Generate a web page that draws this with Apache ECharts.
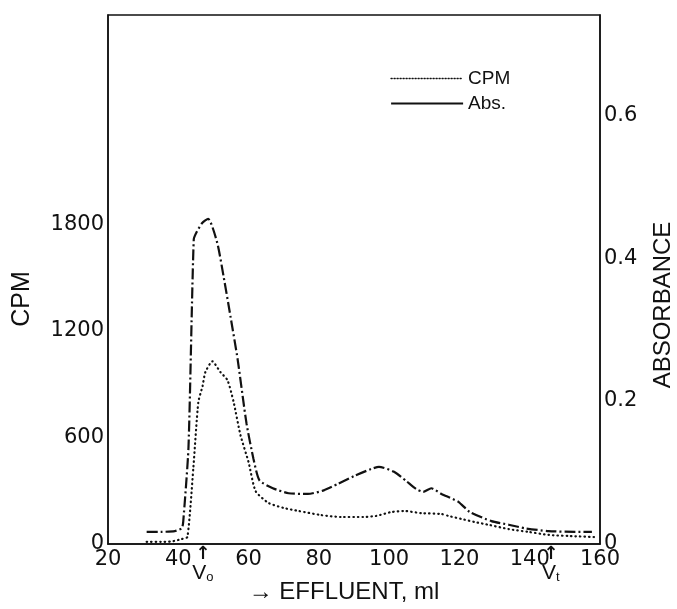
<!DOCTYPE html>
<html>
<head>
<meta charset="utf-8">
<script src="https://cdn.jsdelivr.net/npm/echarts@6/dist/echarts.min.js"></script>
<style>
  html, body { margin: 0; background: #fff; }
  #chart { width: 677px; height: 609px; }
</style>
</head>
<body>
<div id="chart"></div>
<script>
// effluent volume (ml) and counts for the CPM curve
const cpmEffluent = [31, 35, 38, 41, 42.6, 44.3, 45.7, 46.9, 47.7, 49.7, 52, 54, 55.7, 57.7, 60, 62, 65.7, 70, 74.3, 80.6, 86.3, 92.6, 96.3, 100.6, 104.3, 109.1, 114.9, 116.9, 120.6, 124.3, 128.6, 134, 139.7, 145.4, 151.1, 158.6];
const cpmValues = [12, 12, 14, 28, 40, 433, 799, 889, 968, 1029, 968, 923, 804, 613, 461, 298, 231, 203, 186, 163, 152, 152, 158, 180, 186, 174, 169, 158, 141, 124, 107, 84, 68, 51, 45, 39];

// effluent volume (ml) and absorbance
const absEffluent = [31, 35, 39, 41, 41.4, 42.9, 44.4, 45.3, 46.8, 48.5, 51.1, 52.9, 54.9, 56.9, 59.4, 61.4, 63.1, 66.9, 71.4, 76.9, 81.4, 85.4, 90, 94.9, 97.1, 101.4, 104.9, 107.7, 109.7, 112, 114.9, 119.7, 122.9, 129.1, 134, 138.6, 145.4, 152.9, 157.7];
const absValues = [0.017, 0.017, 0.018, 0.022, 0.031, 0.135, 0.426, 0.437, 0.449, 0.455, 0.421, 0.374, 0.317, 0.258, 0.169, 0.119, 0.089, 0.078, 0.071, 0.070, 0.075, 0.084, 0.095, 0.105, 0.108, 0.101, 0.088, 0.077, 0.073, 0.078, 0.070, 0.059, 0.045, 0.032, 0.027, 0.022, 0.018, 0.017, 0.017];

const cpmTicks = [0, 600, 1200, 1800];
const absTicks = [0, 0.2, 0.4, 0.6];
// void volume / total volume markers on the effluent axis
const markerAt = [47, 146];
const markerSub = ['o', 't'];

const zip = (xs, ys) => xs.map((x, i) => [x, ys[i]]);
const tickFont = { fontFamily: 'DejaVu Sans', fontSize: 21, color: '#111' };

const chart = echarts.init(document.getElementById('chart'));

const option = {
    animation: false,
    backgroundColor: '#fff',
    grid: {
        left: 108,
        right: 77,
        top: 15,
        bottom: 64,
        show: true,
        borderColor: '#111',
        borderWidth: 1.5
    },
    legend: {
        orient: 'vertical',
        left: 385,
        top: 64,
        itemWidth: 72,
        itemHeight: 12,
        itemGap: 6,
        textStyle: { fontFamily: 'Liberation Sans', fontSize: 19, color: '#111' },
        data: [
            { name: 'CPM', itemStyle: { opacity: 0 }, lineStyle: { type: [1, 2], width: 1.5 } },
            { name: 'Abs.', itemStyle: { opacity: 0 }, lineStyle: { type: 'solid', width: 2.2 } }
        ]
    },
    xAxis: {
        type: 'value',
        min: 20,
        max: 160,
        interval: 20,
        name: '→ EFFLUENT, ml',
        nameLocation: 'middle',
        nameGap: 36,
        nameTextStyle: { fontFamily: 'Liberation Sans', fontSize: 24, color: '#111', padding: [0, 20, 0, 0] },
        axisLine: { lineStyle: { color: '#111', width: 1.5 } },
        axisTick: { show: false },
        splitLine: { show: false },
        axisLabel: Object.assign({ margin: 5 }, tickFont)
    },
    yAxis: [
        {
            type: 'value',
            min: 0,
            max: 2980,
            interval: 600,
            position: 'left',
            axisLine: { show: true, lineStyle: { color: '#111', width: 1.5 } },
            axisTick: { show: false },
            splitLine: { show: false },
            axisLabel: Object.assign({
                margin: 4,
                formatter: v => cpmTicks.includes(v) ? String(v) : ''
            }, tickFont)
        },
        {
            type: 'value',
            min: 0,
            max: 0.74,
            interval: 0.2,
            position: 'right',
            axisLine: { show: true, lineStyle: { color: '#111', width: 1.5 } },
            axisTick: { show: false },
            splitLine: { show: false },
            axisLabel: Object.assign({
                margin: 4,
                formatter: v => {
                    const t = absTicks.find(a => Math.abs(a - v) < 1e-6);
                    if (t === undefined) return '';
                    return t === 0 ? '0' : t.toFixed(1);
                }
            }, tickFont)
        }
    ],
    series: [
        {
            name: 'CPM',
            type: 'line',
            yAxisIndex: 0,
            symbol: 'none',
            smooth: 0.2,
            lineStyle: { color: '#111', width: 2.2, type: [0.5, 4], cap: 'round' },
            itemStyle: { color: '#111' },
            data: zip(cpmEffluent, cpmValues)
        },
        {
            name: 'Abs.',
            type: 'line',
            yAxisIndex: 1,
            symbol: 'none',
            smooth: 0.2,
            lineStyle: { color: '#111', width: 2.2, type: [11, 3, 2, 3] },
            itemStyle: { color: '#111' },
            data: zip(absEffluent, absValues)
        }
    ]
};

chart.setOption(option);

// axis titles and V markers
const graphics = [
    {
        type: 'text',
        x: 22, y: 299,
        rotation: Math.PI / 2,
        style: { text: 'CPM', fontFamily: 'Liberation Sans', fontSize: 25, fill: '#111', align: 'center', verticalAlign: 'middle' }
    },
    {
        type: 'text',
        x: 663, y: 305,
        rotation: Math.PI / 2,
        style: { text: 'ABSORBANCE', fontFamily: 'Liberation Sans', fontSize: 24, fill: '#111', align: 'center', verticalAlign: 'middle' }
    }
];
markerAt.forEach((ml, i) => {
    const px = chart.convertToPixel({ xAxisIndex: 0 }, ml);
    graphics.push({
        type: 'text',
        x: px, y: 546,
        style: {
            text: '{a|↑}\n{v|V}{s|' + markerSub[i] + '}',
            align: 'center',
            verticalAlign: 'top',
            fill: '#111',
            rich: {
                a: { fontFamily: 'DejaVu Sans', fontSize: 18, fontWeight: 'bold', lineHeight: 16, fill: '#111' },
                v: { fontFamily: 'Liberation Sans', fontSize: 21, lineHeight: 22, fill: '#111' },
                s: { fontFamily: 'Liberation Sans', fontSize: 13, lineHeight: 22, verticalAlign: 'bottom', fill: '#111', padding: [8, 0, 0, 0] }
            }
        }
    });
});
chart.setOption({ graphic: graphics });
</script>
</body>
</html>
